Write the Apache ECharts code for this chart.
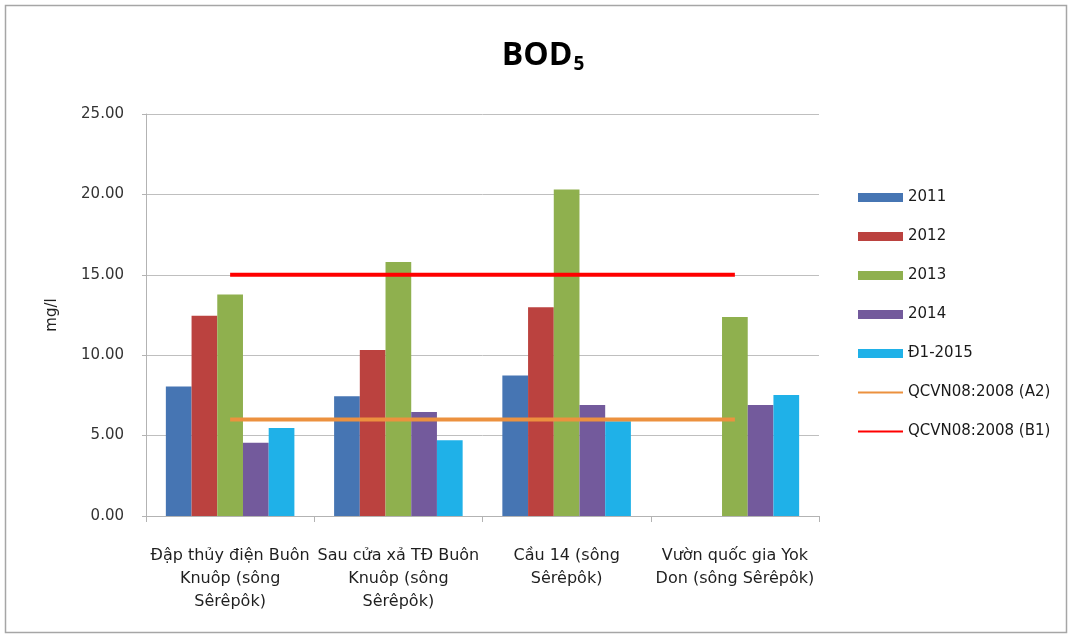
<!DOCTYPE html>
<html>
<head>
<meta charset="utf-8">
<title>BOD5</title>
<script src="https://cdn.jsdelivr.net/npm/echarts@6/dist/echarts.min.js"></script>
<style>
  html, body { margin: 0; padding: 0; background: #fff; }
  #chart { width: 1073px; height: 639px; }
</style>
</head>
<body>
<div id="chart"></div>
<script>
// Monitoring stations on the Sêrêpôk river
const categories = [
  'Đập thủy điện Buôn\nKnuôp (sông\nSêrêpôk)',
  'Sau cửa xả TĐ Buôn\nKnuôp (sông\nSêrêpôk)',
  'Cầu 14 (sông\nSêrêpôk)',
  'Vườn quốc gia Yok\nDon (sông Sêrêpôk)'
];

// BOD5 (mg/l) per monitoring period
const v2011 = [8.06, 7.44, 8.74, null];
const v2012 = [12.46, 10.33, 12.98, null];
const v2013 = [13.78, 15.80, 20.30, 12.38];
const v2014 = [4.55, 6.47, 6.90, 6.90];
const vD1_2015 = [5.48, 4.71, 5.89, 7.52];

// Limits from QCVN08:2008
const limitA2 = [6, 6, 6, 6];
const limitB1 = [15, 15, 15, 15];

const yTicks = { min: 0, max: 25, interval: 5 };

const font = 'DejaVu Sans';
const chart = echarts.init(document.getElementById('chart'));

function barSeries(name, data, color) {
  return {
    name, type: 'bar', data,
    barGap: '0%', barCategoryGap: '23.6%',
    itemStyle: { color },
    z: 2
  };
}
function limitSeries(name, data, color) {
  return {
    name, type: 'line', data,
    symbol: 'none', z: 5,
    lineStyle: { color, width: 4 },
    itemStyle: { color }
  };
}

chart.setOption({
  animation: false,
  backgroundColor: '#ffffff',
  graphic: [{
    type: 'rect',
    shape: { x: 5.5, y: 5.5, width: 1061, height: 627 },
    style: { fill: 'none', stroke: '#a6a6a6', lineWidth: 1.5 },
    silent: true
  }],
  title: {
    text: '{a|BOD}{b|5}',
    left: 538, top: 31, textAlign: 'center',
    textStyle: {
      rich: {
        a: { fontFamily: 'Open Sans', fontWeight: 'bold', fontSize: 32, color: '#000', lineHeight: 40 },
        b: { fontFamily: 'Open Sans', fontWeight: 'bold', fontSize: 19, color: '#000', lineHeight: 40, padding: [17, 0, 0, 1] }
      }
    }
  },
  grid: { left: 146, right: 254, top: 114, bottom: 123, containLabel: false },
  legend: {
    orient: 'vertical',
    left: 857, top: 190, padding: 0,
    itemWidth: 45, itemHeight: 9, itemGap: 24,
    textStyle: { fontFamily: font, fontSize: 15, color: '#1a1a1a', lineHeight: 14.5 },
    data: [
      { name: '2011', icon: 'rect' },
      { name: '2012', icon: 'rect' },
      { name: '2013', icon: 'rect' },
      { name: '2014', icon: 'rect' },
      { name: 'Đ1-2015', icon: 'rect' },
      // line-only legend keys (marker hidden)
      { name: 'QCVN08:2008 (A2)', lineStyle: { width: 2 }, itemStyle: { opacity: 0 } },
      { name: 'QCVN08:2008 (B1)', lineStyle: { width: 2 }, itemStyle: { opacity: 0 } }
    ]
  },
  xAxis: {
    type: 'category',
    data: categories,
    boundaryGap: true,
    axisLine: { lineStyle: { color: '#b3b3b3', width: 1 } },
    axisTick: { show: true, length: 6, lineStyle: { color: '#b3b3b3' } },
    axisLabel: {
      interval: 0, margin: 28,
      fontFamily: font, fontSize: 16, color: '#1f1f1f', lineHeight: 23
    }
  },
  yAxis: {
    type: 'value',
    min: yTicks.min, max: yTicks.max, interval: yTicks.interval,
    name: 'mg/l',
    nameLocation: 'middle', nameRotate: 90, nameGap: 86,
    nameTextStyle: { fontFamily: font, fontSize: 15, color: '#1f1f1f' },
    axisLine: { show: true, lineStyle: { color: '#b3b3b3' } },
    axisTick: { show: true, length: 4, lineStyle: { color: '#b3b3b3' } },
    splitLine: { lineStyle: { color: '#bfbfbf', width: 1 } },
    axisLabel: {
      margin: 22, fontFamily: font, fontSize: 15, color: '#333333',
      formatter: v => v.toFixed(2)
    }
  },
  series: [
    barSeries('2011', v2011, '#4675b3'),
    barSeries('2012', v2012, '#bb423f'),
    barSeries('2013', v2013, '#8fb04e'),
    barSeries('2014', v2014, '#735a9c'),
    barSeries('Đ1-2015', vD1_2015, '#1fb1e8'),
    limitSeries('QCVN08:2008 (A2)', limitA2, '#ec913f'),
    limitSeries('QCVN08:2008 (B1)', limitB1, '#ff0000')
  ]
});
</script>
</body>
</html>
